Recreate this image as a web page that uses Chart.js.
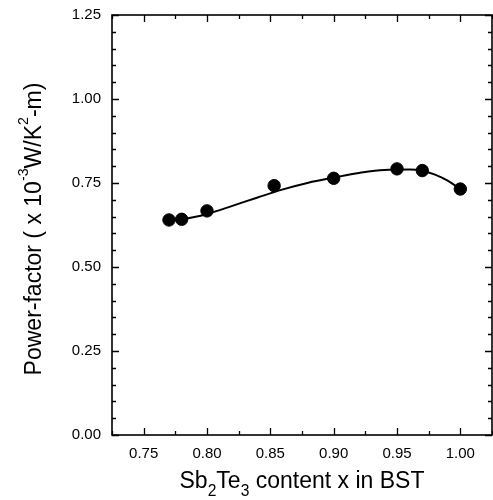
<!DOCTYPE html>
<html>
<head>
<meta charset="utf-8">
<script src="https://cdn.jsdelivr.net/npm/chart.js@4.4.0/dist/chart.umd.min.js"></script>
<style>
  html, body { margin: 0; padding: 0; background: #fff; }
  #wrap { width: 493px; height: 500px; }
</style>
</head>
<body>
<div id="wrap"><canvas id="pfChart" width="493" height="500"></canvas></div>
<script>
// Sb2Te3 fraction of each measured sample
const sbContent = [0.77, 0.78, 0.80, 0.853, 0.90, 0.95, 0.97, 1.00];
// measured power factor (x 10^-3 W/K^2-m)
const powerFactor = [0.640, 0.642, 0.667, 0.742, 0.764, 0.792, 0.787, 0.732];
// fitted trend through the measurements
const fitX = [0.77, 0.78, 0.79, 0.80, 0.82, 0.84, 0.86, 0.88, 0.90, 0.92, 0.94, 0.96, 0.97, 0.98, 0.99, 1.00];
const fitY = [0.640, 0.643, 0.649, 0.658, 0.682, 0.707, 0.731, 0.751, 0.766, 0.780, 0.789, 0.790, 0.786, 0.775, 0.757, 0.732];
// axis tick labels
const xTicks = [0.75, 0.80, 0.85, 0.90, 0.95, 1.00];
const yTicks = [0.00, 0.25, 0.50, 0.75, 1.00, 1.25];

const FONT = "'Liberation Sans', Arial, Helvetica, sans-serif";

// closed frame with inward major/minor ticks on all four sides
const frameTicks = {
  id: 'frameTicks',
  afterDraw(chart) {
    const { ctx, chartArea: a, scales: { x, y } } = chart;
    ctx.save();
    ctx.strokeStyle = '#000';
    ctx.lineWidth = 1.6;
    ctx.strokeRect(a.left, a.top, a.right - a.left, a.bottom - a.top);
    ctx.lineWidth = 1.3;
    ctx.beginPath();
    // x: minor every 0.025
    for (let i = 0; i <= 12; i++) {
      const v = 0.725 + i * 0.025;
      const major = xTicks.some(t => Math.abs(t - v) < 1e-6);
      const len = major ? 7 : 4;
      const px = Math.round(x.getPixelForValue(v)) + 0.5;
      ctx.moveTo(px, a.bottom); ctx.lineTo(px, a.bottom - len);
      ctx.moveTo(px, a.top); ctx.lineTo(px, a.top + len);
    }
    // y: minor every 0.05
    for (let i = 0; i <= 25; i++) {
      const v = i * 0.05;
      const major = yTicks.some(t => Math.abs(t - v) < 1e-6);
      const len = major ? 7 : 4;
      const py = Math.round(y.getPixelForValue(v)) + 0.5;
      ctx.moveTo(a.left, py); ctx.lineTo(a.left + len, py);
      ctx.moveTo(a.right, py); ctx.lineTo(a.right - len, py);
    }
    ctx.stroke();
    ctx.restore();
  }
};

// axis titles with sub/superscripts
const SUB = { sub: [0.68, 0.36], sup: [0.62, -0.58] };
function richWidth(ctx, parts, size) {
  let w = 0;
  parts.forEach(([t, s]) => {
    ctx.font = (s ? size * SUB[s][0] : size) + 'px ' + FONT;
    w += ctx.measureText(t).width;
  });
  return w;
}
function drawRich(ctx, parts, size, x0, y0) {
  let xx = x0;
  parts.forEach(([t, s]) => {
    const fs = s ? size * SUB[s][0] : size;
    ctx.font = fs + 'px ' + FONT;
    const dy = s ? size * SUB[s][1] : 0;
    ctx.fillText(t, xx, y0 + dy);
    xx += ctx.measureText(t).width;
  });
}
const axisTitles = {
  id: 'axisTitles',
  afterDraw(chart) {
    const { ctx, chartArea: a } = chart;
    const size = 23;
    ctx.save();
    ctx.fillStyle = '#000';
    ctx.textBaseline = 'alphabetic';
    ctx.textAlign = 'left';
    const xt = [['Sb', ''], ['2', 'sub'], ['Te', ''], ['3', 'sub'], [' content x in BST', '']];
    const wx = richWidth(ctx, xt, size);
    drawRich(ctx, xt, size, (a.left + a.right) / 2 - wx / 2, 488);
    const yt = [['Power-factor ( x 10', ''], ['-3', 'sup'], ['W/K', ''], ['2', 'sup'], ['-m)', '']];
    const wy = richWidth(ctx, yt, size);
    ctx.translate(41, 229);
    ctx.rotate(-Math.PI / 2);
    drawRich(ctx, yt, size, -wy / 2, 0);
    ctx.restore();
  }
};

const ctx = document.getElementById('pfChart').getContext('2d');
new Chart(ctx, {
  type: 'scatter',
  data: {
    datasets: [
      {
        label: 'fit',
        data: fitX.map((v, i) => ({ x: v, y: fitY[i] })),
        showLine: true,
        borderColor: '#000',
        borderWidth: 2,
        pointRadius: 0,
        tension: 0.4,
        cubicInterpolationMode: 'monotone',
        order: 2
      },
      {
        label: 'measured',
        data: sbContent.map((v, i) => ({ x: v, y: powerFactor[i] })),
        backgroundColor: '#000',
        borderColor: '#000',
        pointRadius: 6.2,
        order: 1
      }
    ]
  },
  options: {
    responsive: false,
    animation: false,
    layout: { autoPadding: false, padding: { left: 0, right: 1, top: 15, bottom: 0 } },
    plugins: { legend: { display: false }, tooltip: { enabled: false } },
    scales: {
      x: {
        type: 'linear',
        min: 0.725,
        max: 1.025,
        afterBuildTicks: s => { s.ticks = xTicks.map(v => ({ value: v })); },
        afterFit: s => { s.height = 65; s.paddingLeft = 0; s.paddingRight = 0; },
        grid: { display: false, drawTicks: false },
        border: { display: false },
        ticks: {
          padding: 10,
          color: '#000',
          font: { family: FONT, size: 15 },
          maxRotation: 0,
          callback: v => v.toFixed(2)
        }
      },
      y: {
        type: 'linear',
        min: 0,
        max: 1.25,
        afterBuildTicks: s => { s.ticks = yTicks.map(v => ({ value: v })); },
        afterFit: s => { s.width = 112; s.paddingTop = 0; s.paddingBottom = 0; },
        grid: { display: false, drawTicks: false },
        border: { display: false },
        ticks: {
          padding: 11,
          color: '#000',
          font: { family: FONT, size: 15 },
          callback: v => v.toFixed(2)
        }
      }
    }
  },
  plugins: [frameTicks, axisTitles]
});
</script>
</body>
</html>
